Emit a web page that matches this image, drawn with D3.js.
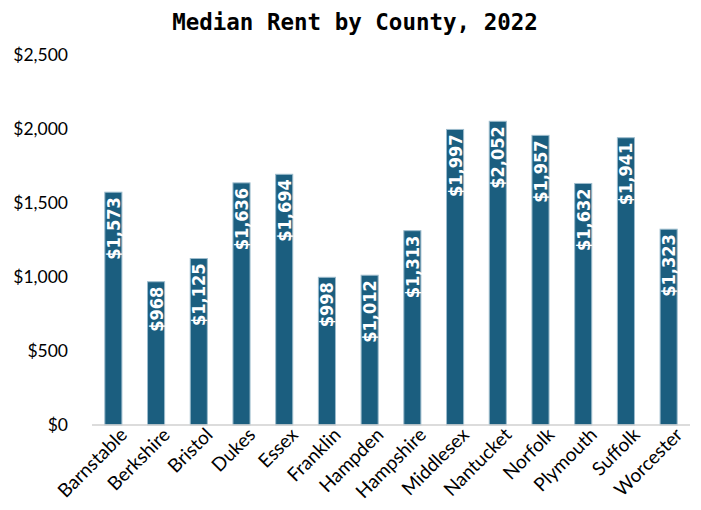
<!DOCTYPE html>
<html>
<head>
<meta charset="utf-8">
<script src="https://cdn.jsdelivr.net/npm/d3@7"></script>
<style>
  body { margin: 0; background: #fff; }
  svg { display: block; }
</style>
</head>
<body>
<svg id="chart" width="701" height="510"></svg>
<script>
// Median gross rent by Massachusetts county, 2022
const counties = ["Barnstable", "Berkshire", "Bristol", "Dukes", "Essex", "Franklin", "Hampden",
  "Hampshire", "Middlesex", "Nantucket", "Norfolk", "Plymouth", "Suffolk", "Worcester"];
const rents = [1573, 968, 1125, 1636, 1694, 998, 1012, 1313, 1997, 2052, 1957, 1632, 1941, 1323];
const yTicks = [0, 500, 1000, 1500, 2000, 2500];

const svg = d3.select("#chart");
const margin = { top: 55, right: 11, bottom: 85, left: 92 };
const W = 701, H = 510;

const x = d3.scaleBand().domain(counties).range([margin.left, W - margin.right])
  .paddingInner(0.6).paddingOuter(0.3);
const y = d3.scaleLinear().domain([0, 2500]).range([H - margin.bottom, margin.top]);

const money = d3.format("$,");
const labelFont = "'DejaVu Sans Condensed', 'DejaVu Sans', sans-serif";
const axisFont = "Lato, 'Open Sans', sans-serif";

// title
svg.append("text")
  .attr("x", 355).attr("y", 30)
  .attr("text-anchor", "middle")
  .style("font-family", "'DejaVu Sans Mono', monospace")
  .style("font-weight", "bold")
  .style("font-size", "22.5px")
  .text("Median Rent by County, 2022");

// y axis (labels only)
const yAxis = svg.append("g")
  .attr("transform", `translate(${margin.left},0)`)
  .call(d3.axisLeft(y).tickValues(yTicks).tickFormat(money).tickSize(0).tickPadding(24));
yAxis.select(".domain").remove();
yAxis.selectAll("text")
  .style("font-family", axisFont).style("font-size", "17.5px").attr("fill", "#000");

// bars
const data = counties.map((c, i) => ({ county: c, rent: rents[i] }));
svg.append("g").selectAll("rect").data(data).join("rect")
  .attr("x", d => x(d.county))
  .attr("y", d => y(d.rent))
  .attr("width", x.bandwidth())
  .attr("height", d => y(0) - y(d.rent))
  .attr("fill", "#1b5e7f")
  .attr("stroke", "#9dbccd")
  .attr("stroke-width", 1);

// value labels inside bars, rotated
svg.append("g").selectAll("text").data(data).join("text")
  .attr("transform", d => `translate(${x(d.county) + x.bandwidth() / 2 + 6.5},${y(d.rent) + 5}) rotate(-90)`)
  .attr("text-anchor", "end")
  .attr("fill", "#fff")
  .style("font-family", labelFont)
  .style("font-stretch", "condensed")
  .style("font-weight", "bold")
  .style("font-size", "18px")
  .text(d => money(d.rent));

// x axis
const xAxis = svg.append("g")
  .attr("transform", `translate(0,${y(0)})`)
  .call(d3.axisBottom(x).tickSize(0).tickPadding(8));
xAxis.select(".domain").attr("stroke", "#d0d0d0").attr("stroke-width", 1.5)
  .attr("d", `M${margin.left},0H${W - margin.right}`);
xAxis.selectAll("text")
  .style("font-family", axisFont).style("font-size", "19px").attr("fill", "#000")
  .attr("text-anchor", "end")
  .attr("transform", "rotate(-45)")
  .attr("dx", "0.15em").attr("dy", "0.55em");
</script>
</body>
</html>
